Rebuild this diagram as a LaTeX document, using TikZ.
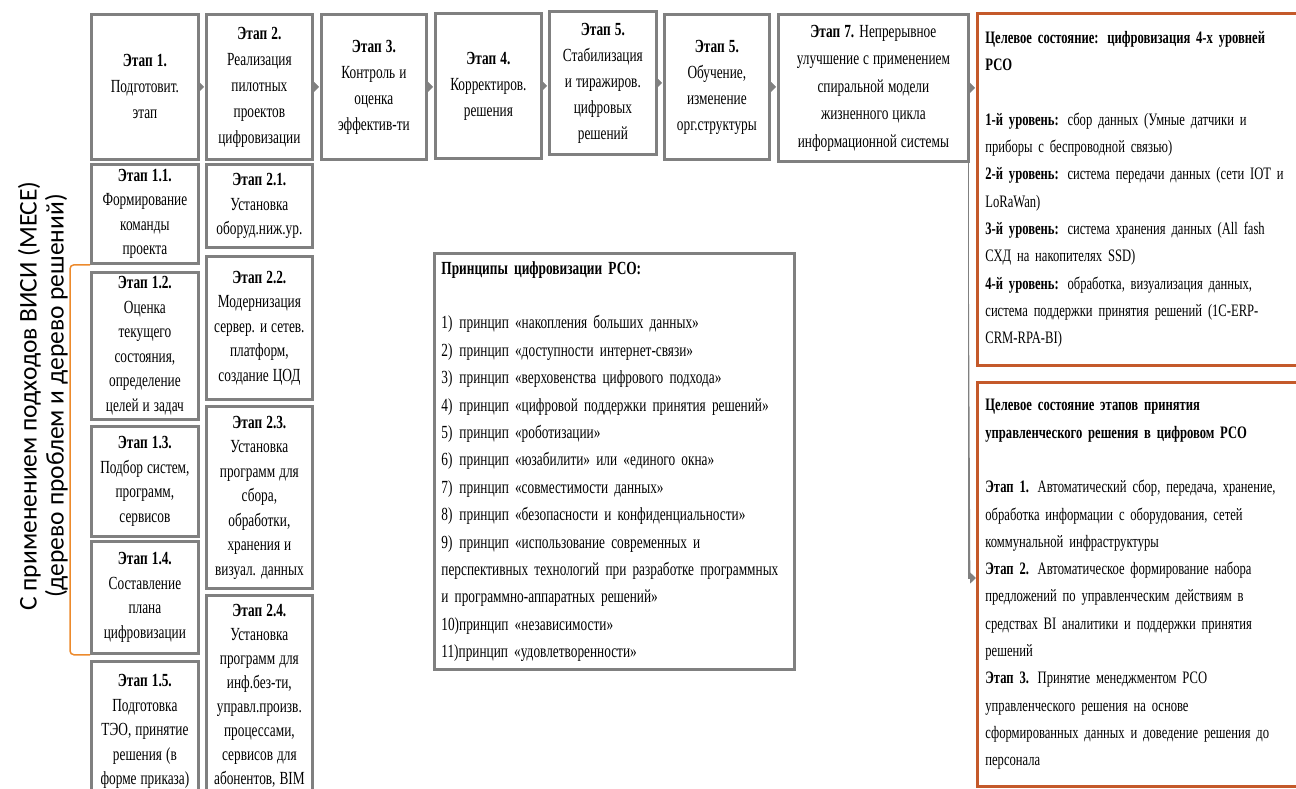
\documentclass[tikz,border=0pt]{standalone}
\usepackage{fontspec}
\setmainfont{Liberation Serif}[FakeStretch=0.72]
\newfontfamily\sidefont{Carlito}
\usetikzlibrary{arrows.meta}

\definecolor{boxgray}{RGB}{128,128,128}
\definecolor{goalrust}{RGB}{196,89,42}
\definecolor{braceorange}{RGB}{236,138,44}

% font size, line distance, word space
\DeclareRobustCommand\boxfont[3]{\fontsize{#1}{#2}\selectfont\spaceskip#3\relax}

\tikzset{
  stage/.style={draw=boxgray, line width=2.8pt, anchor=north west, align=center,
    inner sep=1pt, font=\boxfont{18.5}{26}{4pt}},
  substage/.style={stage, font=\boxfont{18.5}{24.5}{4pt}},
  goal/.style={draw=goalrust, line width=2.8pt, anchor=north west, align=left,
    inner xsep=8pt, font=\boxfont{17.5}{27.3}{3.6pt}},
  flow/.style={-{Triangle[length=7pt,width=14pt]}, draw=boxgray, fill=boxgray,
    line width=0.4pt, shorten >=1pt},
  link/.style={-{Triangle[length=6pt,width=11pt]}, draw=boxgray, fill=boxgray,
    line width=1.3pt},
  bracket/.style={draw=braceorange, line width=1.5pt, rounded corners=4pt},
}

\begin{document}
\begin{tikzpicture}[x=1pt, y=-1pt]
    \path[use as bounding box, clip] (0,0) rectangle (1296,789);

    % Side caption
    \node[rotate=90, align=center, font=\sidefont\fontsize{25.5}{27}\selectfont] (side) at (43,396)
      {С применением подходов ВИСИ (МЕСЕ)\\(дерево проблем и дерево решений)};

    % Main stages
    \node[stage, minimum width=107, minimum height=145] (b1) at (90,13)
      {\textbf{Этап 1.}\\Подготовит.\\этап};
    \node[stage, minimum width=106, minimum height=145] (b2) at (205,13)
      {\textbf{Этап 2.}\\Реализация\\пилотных\\проектов\\цифровизации};
    \node[stage, minimum width=105, minimum height=145] (b3) at (320,13)
      {\textbf{Этап 3.}\\Контроль и\\оценка\\эффектив-ти};
    \node[stage, minimum width=106, minimum height=145] (b4) at (434,12)
      {\textbf{Этап 4.}\\Корректиров.\\решения};
    \node[stage, minimum width=107, minimum height=143] (b5) at (548,10)
      {\textbf{Этап 5.}\\Стабилизация\\и тиражиров.\\цифровых\\решений};
    \node[stage, minimum width=105, minimum height=145] (b6) at (663,13)
      {\textbf{Этап 5.}\\Обучение,\\изменение\\орг.структуры};
    \node[stage, minimum width=190, minimum height=147, font=\boxfont{18.5}{27.5}{4pt}] (b7) at (777,13)
      {\textbf{Этап 7.} Непрерывное\\улучшение с применением\\спиральной модели\\жизненного цикла\\информационной системы};

    % Sub-stages of stage 1
    \node[substage, minimum width=107, minimum height=99] (s11) at (90,163)
      {\textbf{Этап 1.1.}\\Формирование\\команды\\проекта};
    \node[substage, minimum width=107, minimum height=147] (s12) at (90,271)
      {\textbf{Этап 1.2.}\\Оценка\\текущего\\состояния,\\определение\\целей и задач};
    \node[substage, minimum width=107, minimum height=110] (s13) at (90,425)
      {\textbf{Этап 1.3.}\\Подбор систем,\\программ,\\сервисов};
    \node[substage, minimum width=107, minimum height=112] (s14) at (90,540)
      {\textbf{Этап 1.4.}\\Составление\\плана\\цифровизации};
    \node[substage, minimum width=107, minimum height=140] (s15) at (90,660)
      {\textbf{Этап 1.5.}\\Подготовка\\ТЭО, принятие\\решения (в\\форме приказа)};

    % Sub-stages of stage 2
    \node[substage, minimum width=106, minimum height=83] (s21) at (205,163)
      {\textbf{Этап 2.1.}\\Установка\\оборуд.ниж.ур.};
    \node[substage, minimum width=106, minimum height=143] (s22) at (205,255)
      {\textbf{Этап 2.2.}\\Модернизация\\сервер. и сетев.\\платформ,\\создание ЦОД};
    \node[substage, minimum width=106, minimum height=182] (s23) at (205,405)
      {\textbf{Этап 2.3.}\\Установка\\программ для\\сбора,\\обработки,\\хранения и\\визуал. данных};
    \node[substage, minimum width=106, minimum height=200, font=\boxfont{18.5}{24}{4pt}] (s24) at (205,594)
      {\textbf{Этап 2.4.}\\Установка\\программ для\\инф.без-ти,\\управл.произв.\\процессами,\\сервисов для\\абонентов, BIM};

    % Principles
    \node[stage, align=left, minimum width=360, minimum height=416, text width=346, inner xsep=7pt,
      font=\boxfont{18.5}{27.4}{4pt}] (rules) at (433,252)
      {\textbf{Принципы цифровизации РСО:}\\[27.4pt]
       1)\hspace{7pt}принцип «накопления больших данных»\\
       2)\hspace{7pt}принцип «доступности интернет-связи»\\
       3)\hspace{7pt}принцип «верховенства цифрового подхода»\\
       4)\hspace{7pt}принцип «цифровой поддержки принятия решений»\\
       5)\hspace{7pt}принцип «роботизации»\\
       6)\hspace{7pt}принцип «юзабилити» или «единого окна»\\
       7)\hspace{7pt}принцип «совместимости данных»\\
       8)\hspace{7pt}принцип «безопасности и конфиденциальности»\\
       9)\hspace{7pt}принцип «использование современных и\\
       перспективных технологий при разработке программных\\
       и программно-аппаратных решений»\\
       10)принцип «независимости»\\
       11)принцип «удовлетворенности»};

    % Target states
    \node[goal, minimum height=352, text width=318] (goal1) at (976,12)
      {\textbf{Целевое состояние: цифровизация 4-х уровней}\\
       \textbf{РСО}\\[27.3pt]
       \textbf{1-й уровень:} сбор данных (Умные датчики и\\
       приборы с беспроводной связью)\\
       \textbf{2-й уровень:} система передачи данных (сети IOT и\\
       LoRaWan)\\
       \textbf{3-й уровень:} система хранения данных (All fash\\
       СХД на накопителях SSD)\\
       \textbf{4-й уровень:} обработка, визуализация данных,\\
       система поддержки принятия решений (1С-ERP-\\
       CRM-RPA-BI)};
    \node[goal, minimum height=404, text width=318] (goal2) at (976,381)
      {\textbf{Целевое состояние этапов принятия}\\
       \textbf{управленческого решения в цифровом РСО}\\[27.3pt]
       \textbf{Этап 1.} Автоматический сбор, передача, хранение,\\
       обработка информации с оборудования, сетей\\
       коммунальной инфраструктуры\\
       \textbf{Этап 2.} Автоматическое формирование набора\\
       предложений по управленческим действиям в\\
       средствах BI аналитики и поддержки принятия\\
       решений\\
       \textbf{Этап 3.} Принятие менеджментом РСО\\
       управленческого решения на основе\\
       сформированных данных и доведение решения до\\
       персонала};

    % Arrows between stages
    \draw[flow] (b1.east) -- (b1.east -| b2.west);
    \draw[flow] (b2.east) -- (b2.east -| b3.west);
    \draw[flow] (b3.east) -- (b3.east -| b4.west);
    \draw[flow] (b4.east) -- (b4.east -| b5.west);
    \draw[flow] (b5.east) -- (b5.east -| b6.west);
    \draw[flow] (b6.east) -- (b6.east -| b7.west);
    \draw[flow] (b7.east) -- (b7.east -| goal1.west);
    \draw[link] ([xshift=-1.5pt]b7.south east) |- ([yshift=-197pt]goal2.north west);

    % Bracket
    \draw[bracket] (s11.south west) -- ++(-20,0) |- (s14.south west);
\end{tikzpicture}
\end{document}
